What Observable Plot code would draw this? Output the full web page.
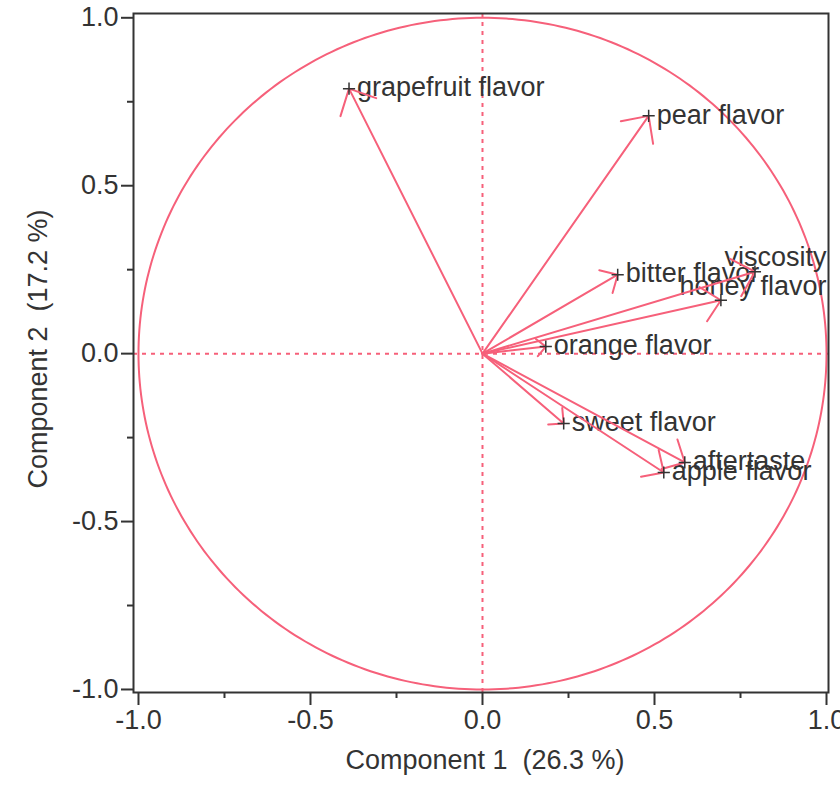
<!DOCTYPE html>
<html><head><meta charset="utf-8">
<script src="https://cdn.jsdelivr.net/npm/d3@7"></script>
<script src="https://cdn.jsdelivr.net/npm/@observablehq/plot@0.6"></script>
<style>body{margin:0;background:#fff} svg text{white-space:pre}</style>
</head><body><div id="chart"></div>
<script>
// ---- data ----
const variables = ["grapefruit flavor","pear flavor","bitter flavor","viscosity","honey flavor","orange flavor","sweet flavor","aftertaste","apple flavor"];
const comp1 = [-0.388, 0.483, 0.393, 0.792, 0.693, 0.184, 0.236, 0.588, 0.527];
const comp2 = [0.789, 0.708, 0.235, 0.244, 0.159, 0.021, -0.208, -0.324, -0.354];
const xTicks = [-1, -0.5, 0, 0.5, 1];
const xMinorTicks = [-0.75, -0.25, 0.25, 0.75];
const yTicks = [-1, -0.5, 0, 0.5, 1];
const yMinorTicks = [-0.75, -0.25, 0.25, 0.75];
const xTitle = "Component 1  (26.3 %)";
const yTitle = "Component 2  (17.2 %)";

// ---- layout / style ----
const pink = "#F6607A";
const ink = "#333333";
const W = 840, H = 786, mL = 133, mR = 12, mT = 13, mB = 94;
const xDomain = [-1.0145, 1.0058], yDomain = [-1.009, 1.0128];
const kx = (W - mL - mR) / (xDomain[1] - xDomain[0]);
const ky = (H - mT - mB) / (yDomain[1] - yDomain[0]);
const rightAligned = new Set(["viscosity", "honey flavor"]);

const data = variables.map((name, i) => ({name, x: comp1[i], y: comp2[i]}));
const circle = d3.range(0, 361, 1).map(a => ({x: Math.cos(a * Math.PI / 180), y: Math.sin(a * Math.PI / 180)}));
const fmt = d => d.toFixed(1);

const arrows = data.map(d => {
  const len = Math.hypot(d.x * kx, d.y * ky);
  const head = 8 + 0.07 * len;
  return Plot.arrow([d], {x1: () => 0, y1: () => 0, x2: "x", y2: "y", stroke: pink, strokeWidth: 2,
    headAngle: 88, headLength: head * 1.5 / 2});
});

const chart = Plot.plot({
  width: W, height: H,
  marginLeft: mL, marginRight: mR, marginTop: mT, marginBottom: mB,
  x: {domain: xDomain},
  y: {domain: yDomain},
  style: {fontFamily: "'Liberation Sans', Arial, sans-serif", fontSize: "27px", color: ink, background: "#fff"},
  marks: [
    Plot.ruleX([0], {stroke: pink, strokeWidth: 2, strokeDasharray: "4,5"}),
    Plot.ruleY([0], {stroke: pink, strokeWidth: 2, strokeDasharray: "4,5"}),
    Plot.line(circle, {x: "x", y: "y", stroke: pink, strokeWidth: 2, curve: "linear"}),
    Plot.text(data.filter(d => !rightAligned.has(d.name)), {x: "x", y: "y", text: "name", textAnchor: "start", dx: 8, dy: -1, fill: ink}),
    Plot.text(data.filter(d => rightAligned.has(d.name)), {x: () => xDomain[1], y: "y", text: "name", textAnchor: "end", dx: -2, dy: -14, fill: ink}),
    ...arrows,
    Plot.dot(data, {x: "x", y: "y", symbol: "plus", r: 4, stroke: ink, strokeWidth: 1.5}),
    Plot.frame({stroke: ink, strokeWidth: 2}),
    Plot.axisX(xTicks, {tickSize: 13, tickPadding: 4, strokeWidth: 2, tickFormat: fmt, label: null}),
    Plot.axisX(xMinorTicks, {tickSize: 6, strokeWidth: 2, tickFormat: () => "", label: null}),
    Plot.axisY(yTicks, {tickSize: 12, tickPadding: 3, strokeWidth: 2, tickFormat: fmt, label: null}),
    Plot.axisY(yMinorTicks, {tickSize: 6, strokeWidth: 2, tickFormat: () => "", label: null}),
    Plot.text([xTitle], {text: d => d, frameAnchor: "bottom", textAnchor: "middle", dy: 76, dx: 4, fill: ink}),
    Plot.text([yTitle], {text: d => d, frameAnchor: "left", textAnchor: "middle", rotate: -90, dx: -95, dy: -4, fill: ink})
  ]
});
document.getElementById("chart").appendChild(chart);
</script>
</body></html>
